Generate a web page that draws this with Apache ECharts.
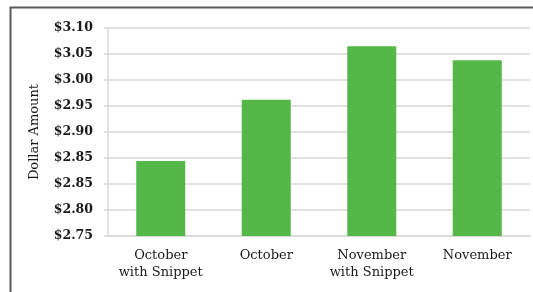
<!DOCTYPE html>
<html>
<head>
<meta charset="utf-8">
<script src="https://cdn.jsdelivr.net/npm/echarts@6/dist/echarts.min.js"></script>
<style>
  html, body { margin: 0; padding: 0; background: #fff; }
  #chart { width: 533px; height: 292px; }
</style>
</head>
<body>
<div id="chart"></div>
<script>
  // categories on the x axis
  var categories = ['October\nwith Snippet', 'October', 'November\nwith Snippet', 'November'];
  // bar heights, in the axis' own (evenly spaced) units
  var amounts = [2.894, 3.012, 3.115, 3.088];
  // tick labels as printed in the source (note the repeated $2.85)
  var tickLabels = ['$2.75', '$2.80', '$2.85', '$2.85', '$2.90', '$2.95', '$3.00', '$3.05', '$3.10'];

  var myChart = echarts.init(document.getElementById('chart'));
  myChart.setOption({
    animation: false,
    grid: { left: 108, right: 3, top: 28, bottom: 56 },
    graphic: [{
      type: 'rect',
      shape: { x: 10.5, y: 7.5, width: 600, height: 400 },
      style: { fill: 'none', stroke: '#595959', lineWidth: 2 },
      silent: true
    }],
    xAxis: {
      type: 'category',
      data: categories,
      axisLine: { lineStyle: { color: '#d9d9d9', width: 1.5 } },
      axisTick: { show: false },
      axisLabel: {
        interval: 0,
        hideOverlap: false,
        margin: 11,
        color: '#1a1a1a',
        fontFamily: 'DejaVu Serif',
        fontSize: 13,
        lineHeight: 17
      }
    },
    yAxis: {
      type: 'value',
      min: 2.75,
      max: 3.15,
      interval: 0.05,
      name: 'Dollar Amount',
      nameLocation: 'middle',
      nameGap: 67,
      nameTextStyle: { color: '#1a1a1a', fontFamily: 'DejaVu Serif', fontSize: 13 },
      axisLine: { show: true, lineStyle: { color: '#d9d9d9', width: 1.5 } },
      axisTick: { show: true, length: 4, lineStyle: { color: '#d9d9d9', width: 1.5 } },
      splitLine: { lineStyle: { color: '#d9d9d9', width: 1.5 } },
      axisLabel: {
        margin: 15,
        color: '#1a1a1a',
        fontFamily: 'DejaVu Serif',
        fontWeight: 'bold',
        fontSize: 12.5,
        formatter: function (v) {
          var i = Math.round((v - 2.75) / 0.05);
          return tickLabels[i];
        }
      }
    },
    series: [{
      type: 'bar',
      data: amounts,
      barWidth: 49,
      itemStyle: { color: '#53b848' }
    }]
  });
</script>
</body>
</html>
